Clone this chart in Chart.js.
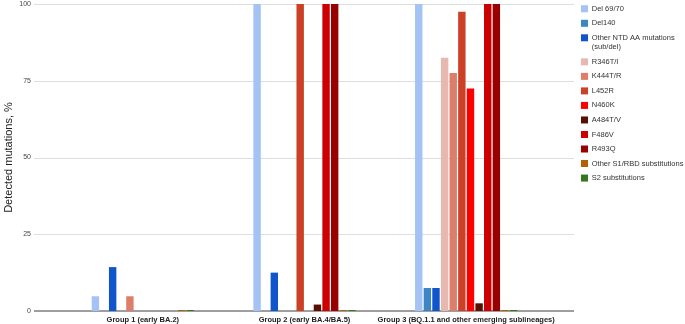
<!DOCTYPE html>
<html>
<head>
<meta charset="utf-8">
<script src="https://cdn.jsdelivr.net/npm/chart.js@4.4.1/dist/chart.umd.min.js"></script>
<style>
  body { margin: 0; background: #fff; }
  #wrap { width: 685px; height: 324px; }
</style>
</head>
<body>
<div id="wrap"><canvas id="mutationsChart" width="685" height="324"></canvas></div>
<script>
const groups = ['Group 1 (early BA.2)', 'Group 2 (early BA.4/BA.5)', 'Group 3 (BQ.1.1 and other emerging sublineages)'];

// one entry per mutation, '\n' marks the legend line break
const mutationNames = [
  'Del 69/70', 'Del140', 'Other NTD AA mutations\n(sub/del)', 'R346T/I', 'K444T/R', 'L452R',
  'N460K', 'A484T/V', 'F486V', 'R493Q', 'Other S1/RBD substitutions', 'S2 substitutions'
];
const mutationColors = [
  '#a4c2f4', '#3d85c6', '#1155cc', '#e6b8af', '#dd7e6b', '#cc4125',
  '#ff0000', '#5b0f00', '#cc0000', '#990000', '#b45f06', '#38761d'
];

// values per group, same order as mutationNames
const group1Values = [4.8, 0, 14.3, 0, 4.8, 0, 0, 0, 0, 0, 0, 0];
const group2Values = [100, 0, 12.5, 0, 0, 100, 0, 2.1, 100, 100, 0, 0];
const group3Values = [100, 7.5, 7.5, 82.5, 77.5, 97.5, 72.5, 2.5, 100, 100, 0, 0];

const yTicks = [0, 25, 50, 75, 100];

const font = 'Liberation Sans, Arial, sans-serif';
const groupValues = [group1Values, group2Values, group3Values];

// google-sheets look: grid lines run a bit past the bar area on both sides
const wideGrid = {
  id: 'wideGrid',
  beforeDatasetsDraw(chart) {
    const { ctx, chartArea, scales: { y } } = chart;
    const left = chartArea.left - 28;
    const right = chartArea.right + 27;
    ctx.save();
    y.ticks.forEach(t => {
      const py = Math.round(y.getPixelForValue(t.value));
      if (t.value === 0) {
        ctx.strokeStyle = '#9e9e9e';
        ctx.lineWidth = 2;
      } else {
        ctx.strokeStyle = '#dedede';
        ctx.lineWidth = 1;
      }
      ctx.beginPath();
      ctx.moveTo(left, t.value === 0 ? py : py + 0.5);
      ctx.lineTo(right, t.value === 0 ? py : py + 0.5);
      ctx.stroke();
    });
    ctx.restore();
  }
};

new Chart(document.getElementById('mutationsChart'), {
  type: 'bar',
  data: {
    labels: groups,
    datasets: mutationNames.map((name, i) => ({
      label: name.replace('\n', ' '),
      data: groupValues.map(g => g[i]),
      backgroundColor: mutationColors[i],
      borderWidth: 0,
      minBarLength: i >= 10 ? 1 : 0,
      barPercentage: 0.86,
      categoryPercentage: 0.64
    }))
  },
  options: {
    responsive: false,
    animation: false,
    layout: { padding: 0 },
    scales: {
      x: {
        afterFit: s => { s.height = 13; },
        grid: { display: false, drawTicks: false },
        border: { display: false },
        ticks: {
          padding: 4,
          color: '#222',
          font: { family: font, size: 7.5, weight: 'bold' },
          maxRotation: 0,
          autoSkip: false
        }
      },
      y: {
        min: 0,
        max: 100,
        afterBuildTicks: s => { s.ticks = yTicks.map(v => ({ value: v })); },
        afterFit: s => {
          s.width = 62;
          // the big tick padding would otherwise push the plot down
          s.paddingTop = 4;
          s.paddingBottom = 0;
        },
        grid: { display: false, drawTicks: false },
        border: { display: false },
        ticks: {
          padding: 31,
          color: '#444',
          font: { family: font, size: 7 }
        },
        title: {
          display: true,
          text: 'Detected mutations, %',
          color: '#222',
          padding: { top: 2, bottom: 0 },
          font: { family: font, size: 11 }
        }
      },
      // empty axis, only keeps a gap between the bars and the legend
      gap: {
        type: 'linear',
        position: 'right',
        display: true,
        afterFit: s => { s.width = 29; s.paddingTop = 0; s.paddingBottom = 0; },
        grid: { display: false, drawTicks: false },
        border: { display: false },
        ticks: { display: false }
      }
    },
    plugins: {
      legend: {
        position: 'right',
        align: 'start',
        maxWidth: 109,
        labels: {
          boxWidth: 7,
          boxHeight: 7,
          padding: 5,
          color: '#333',
          font: { family: font, size: 7.5, lineHeight: 1.27 },
          generateLabels: chart => {
            const items = Chart.defaults.plugins.legend.labels.generateLabels(chart);
            return items.map((it, i) => ({ ...it, text: mutationNames[i].split('\n'), lineWidth: 0 }));
          }
        }
      },
      tooltip: { enabled: false }
    }
  },
  plugins: [wideGrid]
});
</script>
</body>
</html>
